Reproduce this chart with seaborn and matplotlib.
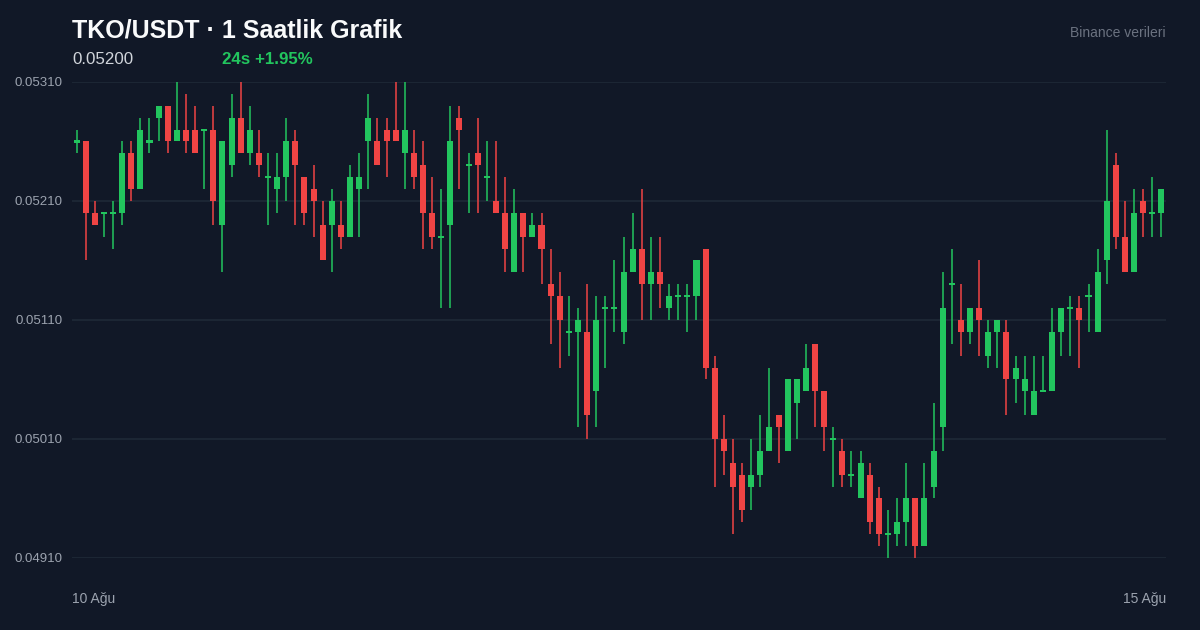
import matplotlib
matplotlib.use("Agg")
import matplotlib.pyplot as plt
import seaborn as sns
import pandas as pd
import numpy as np

# hourly candles
opens = [0.0526, 0.0526, 0.0520, 0.0520, 0.0520, 0.0520, 0.0525, 0.0522, 0.0526, 0.0528,
         0.0529, 0.0526, 0.0527, 0.0527, 0.0527, 0.0527, 0.0519, 0.0524, 0.0528, 0.0525,
         0.0525, 0.0523, 0.0522, 0.0523, 0.0526, 0.0523, 0.0522, 0.0519, 0.0519, 0.0519,
         0.0518, 0.0522, 0.0526, 0.0526, 0.0527, 0.0527, 0.0525, 0.0525, 0.0524, 0.0520,
         0.0518, 0.0519, 0.0528, 0.0524, 0.0525, 0.0523, 0.0521, 0.0520, 0.0515, 0.0520,
         0.0518, 0.0519, 0.0514, 0.0513, 0.0510, 0.0510, 0.0510, 0.0505, 0.0512, 0.0512,
         0.0510, 0.0515, 0.0517, 0.0514, 0.0515, 0.0512, 0.0513, 0.0513, 0.0513, 0.0517,
         0.0507, 0.0501, 0.0499, 0.0498, 0.0497, 0.0498, 0.0500, 0.0503, 0.0500, 0.0504,
         0.0505, 0.0509, 0.0505, 0.0501, 0.0500, 0.0498, 0.0496, 0.0498, 0.0496, 0.0493,
         0.0493, 0.0494, 0.0496, 0.0492, 0.0497, 0.0502, 0.0514, 0.0511, 0.0510, 0.0512,
         0.0508, 0.0510, 0.0510, 0.0506, 0.0505, 0.0503, 0.0505, 0.0505, 0.0510, 0.0512,
         0.0512, 0.0513, 0.0510, 0.0516, 0.0524, 0.0518, 0.0515, 0.0521, 0.0520, 0.0520]
highs = [0.0527, 0.0526, 0.0521, 0.0520, 0.0521, 0.0526, 0.0526, 0.0528, 0.0528, 0.0529,
         0.0529, 0.0531, 0.0530, 0.0529, 0.0527, 0.0529, 0.0526, 0.0530, 0.0531, 0.0529,
         0.0527, 0.0525, 0.0525, 0.0528, 0.0527, 0.0523, 0.0524, 0.0521, 0.0522, 0.0521,
         0.0524, 0.0525, 0.0530, 0.0528, 0.0528, 0.0531, 0.0531, 0.0527, 0.0526, 0.0523,
         0.0522, 0.0529, 0.0529, 0.0525, 0.0528, 0.0526, 0.0526, 0.0523, 0.0522, 0.0520,
         0.0520, 0.0520, 0.0517, 0.0515, 0.0513, 0.0512, 0.0514, 0.0513, 0.0513, 0.0516,
         0.0518, 0.0520, 0.0522, 0.0518, 0.0518, 0.0514, 0.0514, 0.0514, 0.0516, 0.0517,
         0.0508, 0.0503, 0.0501, 0.0499, 0.0501, 0.0503, 0.0507, 0.0503, 0.0506, 0.0506,
         0.0509, 0.0509, 0.0505, 0.0502, 0.0501, 0.0500, 0.0500, 0.0499, 0.0497, 0.0495,
         0.0496, 0.0499, 0.0496, 0.0499, 0.0504, 0.0515, 0.0517, 0.0514, 0.0512, 0.0516,
         0.0511, 0.0511, 0.0511, 0.0508, 0.0508, 0.0508, 0.0508, 0.0512, 0.0512, 0.0513,
         0.0513, 0.0514, 0.0517, 0.0527, 0.0525, 0.0521, 0.0522, 0.0522, 0.0523, 0.0522]
lows = [0.0525, 0.0516, 0.0519, 0.0518, 0.0517, 0.0519, 0.0521, 0.0522, 0.0525, 0.0526,
        0.0525, 0.0526, 0.0525, 0.0525, 0.0522, 0.0519, 0.0515, 0.0523, 0.0525, 0.0524,
        0.0523, 0.0519, 0.0520, 0.0521, 0.0519, 0.0519, 0.0518, 0.0516, 0.0515, 0.0517,
        0.0518, 0.0518, 0.0522, 0.0524, 0.0523, 0.0526, 0.0522, 0.0522, 0.0517, 0.0517,
        0.0512, 0.0512, 0.0522, 0.0520, 0.0520, 0.0521, 0.0520, 0.0515, 0.0515, 0.0515,
        0.0518, 0.0514, 0.0509, 0.0507, 0.0508, 0.0502, 0.0501, 0.0502, 0.0507, 0.0510,
        0.0509, 0.0515, 0.0511, 0.0511, 0.0512, 0.0511, 0.0511, 0.0510, 0.0511, 0.0506,
        0.0497, 0.0498, 0.0493, 0.0494, 0.0495, 0.0497, 0.0500, 0.0499, 0.0500, 0.0501,
        0.0505, 0.0502, 0.0500, 0.0497, 0.0497, 0.0497, 0.0496, 0.0493, 0.0492, 0.0491,
        0.0492, 0.0492, 0.0491, 0.0492, 0.0496, 0.0500, 0.0509, 0.0508, 0.0509, 0.0508,
        0.0507, 0.0507, 0.0503, 0.0504, 0.0503, 0.0503, 0.0505, 0.0505, 0.0508, 0.0508,
        0.0507, 0.0510, 0.0510, 0.0514, 0.0517, 0.0515, 0.0515, 0.0518, 0.0518, 0.0518]
closes = [0.0526, 0.0520, 0.0519, 0.0520, 0.0520, 0.0525, 0.0522, 0.0527, 0.0526, 0.0529,
          0.0526, 0.0527, 0.0526, 0.0525, 0.0527, 0.0521, 0.0526, 0.0528, 0.0525, 0.0527,
          0.0524, 0.0523, 0.0523, 0.0526, 0.0524, 0.0520, 0.0521, 0.0516, 0.0521, 0.0518,
          0.0523, 0.0523, 0.0528, 0.0524, 0.0526, 0.0526, 0.0527, 0.0523, 0.0520, 0.0518,
          0.0518, 0.0526, 0.0527, 0.0524, 0.0524, 0.0523, 0.0520, 0.0517, 0.0520, 0.0518,
          0.0519, 0.0517, 0.0513, 0.0511, 0.0510, 0.0511, 0.0503, 0.0511, 0.0512, 0.0512,
          0.0515, 0.0517, 0.0514, 0.0515, 0.0514, 0.0513, 0.0513, 0.0513, 0.0516, 0.0507,
          0.0501, 0.0500, 0.0497, 0.0495, 0.0498, 0.0500, 0.0502, 0.0502, 0.0506, 0.0506,
          0.0507, 0.0505, 0.0502, 0.0501, 0.0498, 0.0498, 0.0499, 0.0494, 0.0493, 0.0493,
          0.0494, 0.0496, 0.0492, 0.0496, 0.0500, 0.0512, 0.0514, 0.0510, 0.0512, 0.0511,
          0.0510, 0.0511, 0.0506, 0.0507, 0.0506, 0.0505, 0.0505, 0.0510, 0.0512, 0.0512,
          0.0511, 0.0513, 0.0515, 0.0521, 0.0518, 0.0515, 0.0520, 0.0520, 0.0520, 0.0522]

y_ticks = [0.0491, 0.0501, 0.0511, 0.0521, 0.0531]
y_tick_labels = ["0.04910", "0.05010", "0.05110", "0.05210", "0.05310"]
x_labels = ["10 Ağu", "15 Ağu"]

BG = "#111827"
GRID = "#1f2937"
UP = "#22c55e"
DOWN = "#ef4444"

sns.set_theme(style="dark", rc={"axes.facecolor": BG, "figure.facecolor": BG})
plt.rcParams["font.family"] = ["Liberation Sans", "DejaVu Sans"]

df = pd.DataFrame({"open": opens, "high": highs, "low": lows, "close": closes})
df["idx"] = np.arange(len(df))
df["up"] = df["close"] >= df["open"]
df["color"] = np.where(df["up"], UP, DOWN)
df["body_lo"] = df[["open", "close"]].min(axis=1)
df["body_h"] = (df["close"] - df["open"]).abs()
# doji candles still get a thin bar
doji_h = 0.000018
df.loc[df["body_h"] == 0, "body_lo"] -= doji_h / 2
df["body_h"] = df["body_h"].clip(lower=doji_h)

fig = plt.figure(figsize=(12, 6.3), dpi=100)
ax = fig.add_axes([72 / 1200, 1 - 558 / 630, (1166 - 72) / 1200, (558 - 82) / 630])

for yv in y_ticks:
    ax.axhline(yv, color=GRID, lw=1.2, zorder=0)

ax.vlines(df["idx"], df["low"], df["high"], colors=df["color"], lw=1.1, zorder=2, clip_on=False)
ax.bar(df["idx"], df["body_h"], bottom=df["body_lo"], width=0.66, color=df["color"],
       edgecolor="none", zorder=3, clip_on=False)

ax.set_xlim(-0.5, len(df) - 0.5)
ax.set_ylim(0.0491, 0.0531)
ax.set_yticks(y_ticks)
ax.set_yticklabels(y_tick_labels, fontsize=9.5, color="#9ca3af")
ax.tick_params(axis="y", length=0, pad=7)
ax.set_xticks([])
ax.grid(False)
for s in ax.spines.values():
    s.set_visible(False)

fig.text(72 / 1200, 1 - 30 / 630, "TKO/USDT · 1 Saatlik Grafik", fontsize=18,
         fontweight="bold", color="#f9fafb", va="center", ha="left")
fig.text(72 / 1200, 1 - 60 / 630, "0.05200", fontsize=12.2, color="#d1d5db",
         va="center", ha="left")
fig.text(222 / 1200, 1 - 60 / 630, "24s +1.95%", fontsize=12.2, fontweight="bold",
         color=UP, va="center", ha="left")
fig.text(1166 / 1200, 1 - 33 / 630, "Binance verileri", fontsize=10, color="#6b7280",
         va="center", ha="right")
fig.text(72 / 1200, 1 - 599 / 630, x_labels[0], fontsize=10, color="#9ca3af",
         va="center", ha="left")
fig.text(1166 / 1200, 1 - 599 / 630, x_labels[1], fontsize=10, color="#9ca3af",
         va="center", ha="right")

fig.savefig("out.png", dpi=100, facecolor=BG)
